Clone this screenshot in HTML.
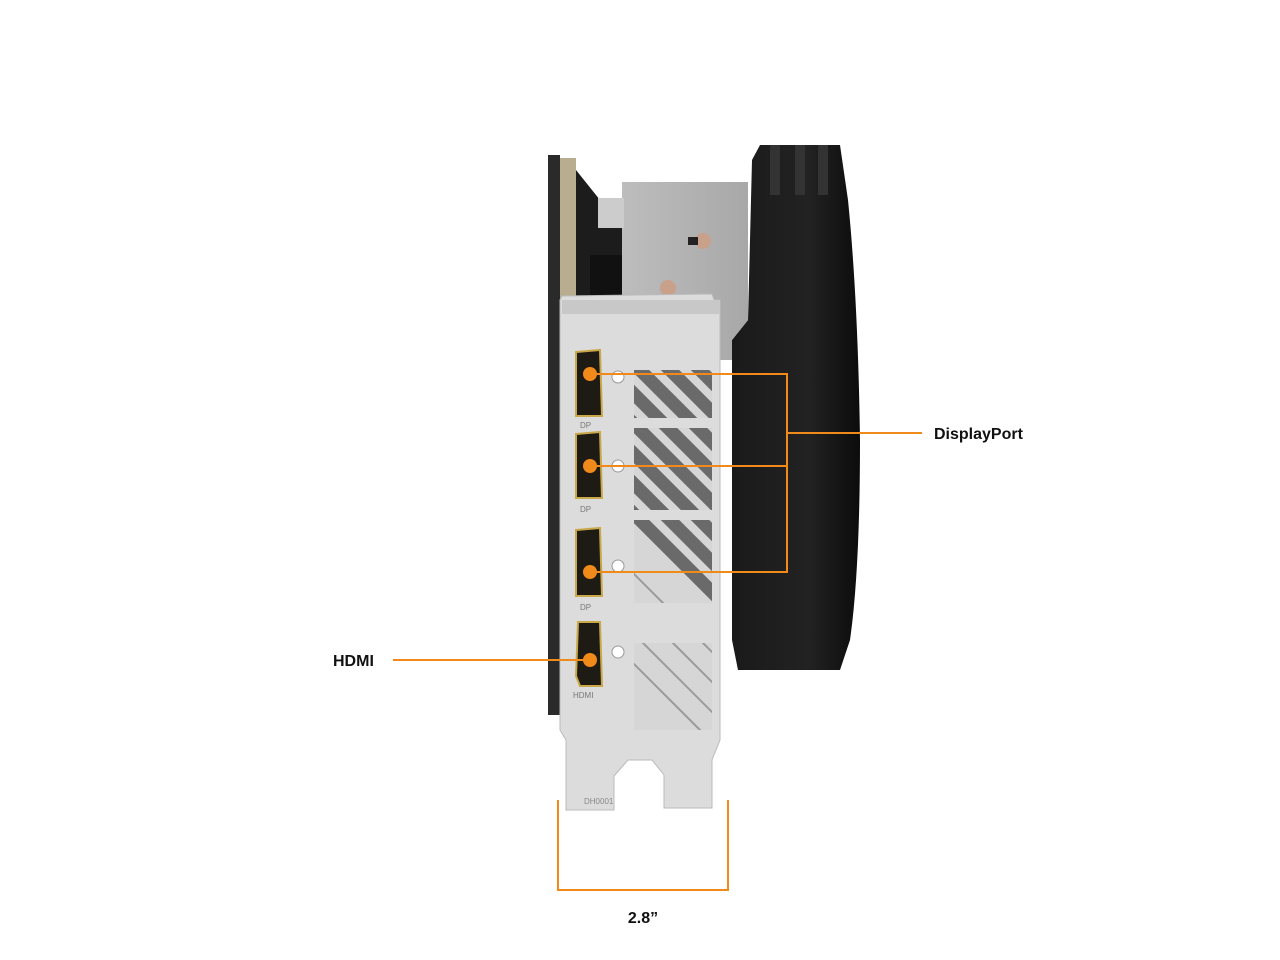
<!DOCTYPE html>
<html><head><meta charset="utf-8"><style>
html,body{margin:0;padding:0;background:#fff;}
svg{display:block}
text{font-family:"Liberation Sans",sans-serif;font-weight:bold;fill:#111}
</style></head><body>
<svg width="1280" height="960" viewBox="0 0 1280 960" xmlns="http://www.w3.org/2000/svg">
<defs>
<linearGradient id="blk" x1="0" x2="1"><stop offset="0" stop-color="#1a1a1a"/><stop offset="0.6" stop-color="#222"/><stop offset="1" stop-color="#0c0c0c"/></linearGradient>
<linearGradient id="gry" x1="0" x2="1"><stop offset="0" stop-color="#bdbdbd"/><stop offset="1" stop-color="#a8a8a8"/></linearGradient>
<clipPath id="ven"><rect x="634" y="370" width="78" height="360"/></clipPath>
</defs>
<!-- black cooler -->
<path d="M752 160 L760 145 L840 145 L848 200 Q858 300 860 440 Q860 570 850 640 L840 670 L738 670 L732 640 L732 340 L748 320 Z" fill="url(#blk)"/>
<rect x="770" y="145" width="10" height="50" fill="#333"/>
<rect x="795" y="145" width="10" height="50" fill="#333"/>
<rect x="818" y="145" width="10" height="50" fill="#333"/>
<!-- gray heatsink plate -->
<path d="M622 182 L748 182 L748 320 L732 340 L732 360 L720 360 L720 300 L622 300 Z" fill="url(#gry)"/>
<circle cx="703" cy="241" r="8" fill="#c9a089"/><rect x="688" y="237" width="10" height="8" fill="#222"/>
<circle cx="668" cy="288" r="8" fill="#c9a089"/>
<!-- PCB / left dark -->
<rect x="548" y="155" width="12" height="560" fill="#2a2a2a"/>
<rect x="560" y="158" width="16" height="150" fill="#b9ad8f"/>
<path d="M576 170 L600 200 L622 210 L622 300 L576 300 Z" fill="#1c1c1c"/>
<rect x="598" y="198" width="26" height="30" fill="#ccc"/>
<rect x="590" y="255" width="32" height="40" fill="#111"/>
<!-- bracket -->
<path d="M562 296 L712 294 L714 300 L720 300 L720 740 L712 760 L712 808 L664 808 L664 775 L652 760 L628 760 L614 776 L614 810 L566 810 L566 740 L560 730 L560 300 Z" fill="#dcdcdc" stroke="#bbb" stroke-width="1"/>
<rect x="562" y="300" width="158" height="14" fill="#c8c8c8"/>
<!-- vents -->
<g clip-path="url(#ven)">
<rect x="634" y="370" width="78" height="360" fill="#d6d6d6"/>
<g stroke="#6a6a6a" stroke-width="13">
<line x1="600" y1="300" x2="780" y2="480"/><line x1="600" y1="330" x2="780" y2="510"/><line x1="600" y1="360" x2="780" y2="540"/>
<line x1="600" y1="270" x2="780" y2="450"/>
<line x1="600" y1="390" x2="780" y2="570"/><line x1="600" y1="420" x2="780" y2="600"/><line x1="600" y1="450" x2="780" y2="630"/>
<line x1="600" y1="480" x2="780" y2="660"/>
</g>
<g stroke="#9a9a9a" stroke-width="2" fill="none">
<line x1="600" y1="570" x2="780" y2="750"/><line x1="600" y1="600" x2="780" y2="780"/><line x1="600" y1="630" x2="780" y2="810"/><line x1="600" y1="540" x2="780" y2="720"/>
</g>
<rect x="634" y="418" width="78" height="10" fill="#dcdcdc"/>
<rect x="634" y="510" width="78" height="10" fill="#dcdcdc"/>
<rect x="634" y="603" width="78" height="40" fill="#dcdcdc"/>
</g>
<!-- ports -->
<g fill="#1e1a14" stroke="#c9a84a" stroke-width="2">
<path d="M576 352 L600 350 L602 416 L576 416 Z"/>
<path d="M576 434 L600 432 L602 498 L576 498 Z"/>
<path d="M576 530 L600 528 L602 596 L576 596 Z"/>
<path d="M578 622 L600 622 L602 686 L580 686 L576 676 Z"/>
</g>
<g fill="#fff" stroke="#999"><circle cx="618" cy="377" r="6"/><circle cx="618" cy="466" r="6"/><circle cx="618" cy="566" r="6"/><circle cx="618" cy="652" r="6"/></g>
<g font-size="8"><text x="580" y="428" style="font-weight:normal;fill:#777">DP</text><text x="580" y="512" style="font-weight:normal;fill:#777">DP</text><text x="580" y="610" style="font-weight:normal;fill:#777">DP</text><text x="573" y="698" style="font-weight:normal;fill:#777">HDMI</text><text x="584" y="804" style="font-weight:normal;fill:#888">DH0001</text></g>
<!-- callouts -->
<g stroke="#f08a1a" stroke-width="2" fill="none">
<polyline points="590,374 787,374 787,572 590,572"/>
<line x1="590" y1="466" x2="787" y2="466"/>
<line x1="787" y1="433" x2="922" y2="433"/>
<line x1="393" y1="660" x2="590" y2="660"/>
<polyline points="558,800 558,890 728,890 728,800"/>
</g>
<g fill="#f08a1a"><circle cx="590" cy="374" r="7"/><circle cx="590" cy="466" r="7"/><circle cx="590" cy="572" r="7"/><circle cx="590" cy="660" r="7"/></g>
<text x="934" y="439" font-size="16">DisplayPort</text>
<text x="333" y="666" font-size="16">HDMI</text>
<text x="643" y="923" font-size="16" text-anchor="middle">2.8”</text>
</svg>
</body></html>
